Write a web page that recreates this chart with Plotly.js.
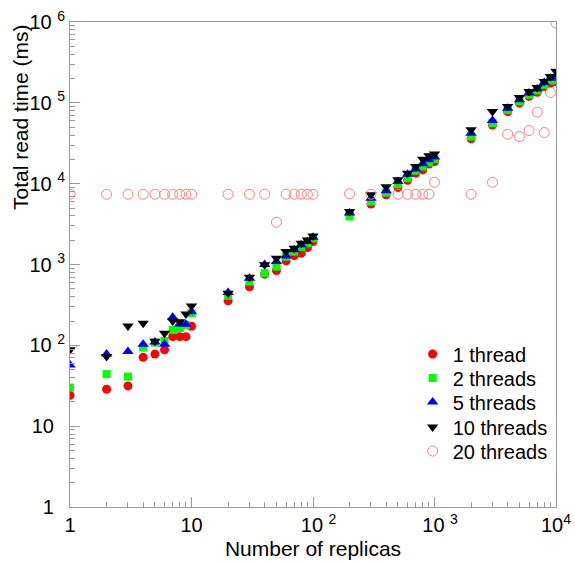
<!DOCTYPE html>
<html>
<head>
<meta charset="utf-8">
<script src="https://cdn.plot.ly/plotly-3.0.1.min.js"></script>
<style>html,body{margin:0;padding:0;background:#fff;}#chart{width:575px;height:564px;}</style>
</head>
<body>
<div id="chart"></div>
<script>
const replicas = [1,2,3,4,5,6,7,8,9,10,20,30,40,50,60,70,80,90,100,200,300,400,500,600,700,800,900,1000,2000,3000,4000,5000,6000,7000,8000,9000,10000];
const threads1 = [24,28.6,31.5,71,78,88,128,128,128,172,355,530,760,840,1110,1290,1380,1620,1920,4200,5600,7270,8960,11000,13500,14800,17500,18800,36000,53000,78000,99000,120000,135000,159000,175000,182000];
const threads2 = [30,44,41,94,108,113,155,163,179,250,410,615,780,942,1250,1440,1640,1830,2110,3920,6000,7770,9860,11700,14500,16300,18250,20100,38300,56000,81900,104000,126000,142000,167000,189000,193000];
const threads5 = [57,78,84,103,110,103,222,184,182,261,450,677,1000,1086,1277,1517,1750,1922,2170,4350,6600,8200,10600,13100,15200,17600,19700,21300,42000,60400,85900,109000,132000,148000,178000,202000,208000];
const threads10 = [88,72.5,174,188,112,141,200,196,245,307,440,697,990,1196,1444,1589,1833,2015,2260,4520,7270,9150,11150,13500,16300,20100,22100,23200,46300,78000,90000,116000,138000,155000,184000,212000,246000];
const threads20 = [7400,7400,7400,7400,7400,7400,7400,7400,7400,7400,7400,7400,7400,3340,7400,7400,7400,7400,7400,7500,7400,null,7400,7400,7400,7400,7400,10400,7400,10400,40900,38300,45400,76700,42900,134000,968000];
const seriesNames = ['1 thread','2 threads','5 threads','10 threads','20 threads'];
const xTickVals = [1,10,100,1000,10000];
const xTickText = ['1','10','\u00a0\u00a010 <sup>2</sup>','\u00a0\u00a010 <sup>3</sup>','10<sup>4</sup>'];
const yTickVals = [1,10,100,1000,10000,100000,1000000];
const yTickText = ['1\u00a0\u00a0','10\u00a0\u00a0','10 <sup>2</sup>','10 <sup>3</sup>','10 <sup>4</sup>','10 <sup>5</sup>','10 <sup>6</sup>'];

const font = 'Liberation Sans, Arial, Helvetica, sans-serif';
const axisGray = '#9a9a9a';
const legendIds = ['legend','legend2','legend3','legend4','legend5'];

const traces = [
  {y: threads1, name: seriesNames[0], marker: {symbol: 'circle', size: 9, color: '#ff0000'}},
  {y: threads2, name: seriesNames[1], marker: {symbol: 'square', size: 8, color: '#00ff00'}},
  {y: threads5, name: seriesNames[2], marker: {symbol: 'triangle-up', size: 10, color: '#0000ff'}},
  {y: threads10, name: seriesNames[3], marker: {symbol: 'triangle-down', size: 10, color: '#000000'}},
  {y: threads20, name: seriesNames[4], marker: {symbol: 'circle-open', size: 10, color: '#ff7f7f', line: {width: 1, color: '#ff7f7f'}}}
].map((t, i) => Object.assign({x: replicas, type: 'scatter', mode: 'markers', legend: legendIds[i]}, t));

function axis(extra) {
  return Object.assign({
    type: 'log',
    showgrid: false,
    zeroline: false,
    showline: true,
    linecolor: axisGray,
    linewidth: 1,
    mirror: true,
    ticks: 'inside',
    ticklen: 10,
    tickcolor: axisGray,
    tickwidth: 1,
    tickmode: 'array',
    ticklabeloverflow: 'allow',
    tickfont: {family: font, size: 20, color: '#000'},
    minor: {ticks: 'inside', ticklen: 5, tickcolor: axisGray, dtick: 'D1', showgrid: false}
  }, extra);
}

const legendRowY = [0.3155, 0.266, 0.2165, 0.165, 0.1155];
function legendAt(y) {
  return {x: 0.705, y: y, xanchor: 'left', yanchor: 'middle', bgcolor: 'rgba(0,0,0,0)',
          font: {family: font, size: 20, color: '#000'}};
}

const layout = {
  width: 575, height: 564,
  margin: {l: 70, r: 19, t: 22, b: 57},
  paper_bgcolor: '#fff', plot_bgcolor: '#fff',
  font: {family: font, size: 20, color: '#000'},
  showlegend: true,
  xaxis: axis({range: [0, 4], tickvals: xTickVals, ticktext: xTickText,
               title: {text: 'Number of replicas', font: {family: font, size: 21}, standoff: 6}}),
  yaxis: axis({range: [0, 6], tickvals: yTickVals, ticktext: yTickText}),
  annotations: [{
    text: 'Total read time (ms)', textangle: -90, showarrow: false,
    xref: 'paper', yref: 'paper', x: -0.103, y: 0.804, xanchor: 'center', yanchor: 'middle',
    font: {family: font, size: 21, color: '#000'}
  }]
};
legendIds.forEach((id, i) => { layout[id] = legendAt(legendRowY[i]); });

Plotly.newPlot('chart', traces, layout, {displayModeBar: false, staticPlot: true});
</script>
</body>
</html>
